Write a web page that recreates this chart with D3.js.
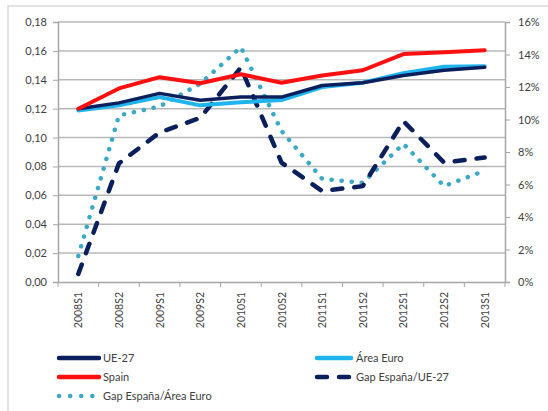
<!DOCTYPE html>
<html><head><meta charset="utf-8">
<script src="https://cdn.jsdelivr.net/npm/d3@7"></script>
<style>
body{margin:0;background:#fff;}
svg{display:block;}
text{font-family:Lato,"Open Sans",sans-serif;fill:#404040;}
</style></head>
<body><svg id="c" width="548" height="411"></svg>
<script>
const categories=["2008S1","2008S2","2009S1","2009S2","2010S1","2010S2","2011S1","2011S2","2012S1","2012S2","2013S1"];
const ue27=[0.120,0.124,0.1306,0.1258,0.128,0.128,0.136,0.138,0.143,0.1466,0.1487];
const areaEuro=[0.1188,0.1223,0.128,0.1223,0.1244,0.126,0.135,0.138,0.1445,0.149,0.1494];
const spain=[0.120,0.134,0.1418,0.1376,0.1438,0.138,0.143,0.1466,0.1578,0.159,0.1605];
const gapUE=[0.005,0.073,0.092,0.101,0.132,0.0735,0.056,0.059,0.099,0.0735,0.0766];
const gapEuro=[0.016,0.1025,0.108,0.122,0.1445,0.093,0.0635,0.061,0.085,0.059,0.0685];
const leftTicks=[0,0.02,0.04,0.06,0.08,0.10,0.12,0.14,0.16,0.18];
const rightTicks=[0,0.02,0.04,0.06,0.08,0.10,0.12,0.14,0.16];

const svg=d3.select("#c");
const L=58,R=505,T=22,B=282;
const x=d3.scaleBand().domain(categories).range([L,R]);
const yL=d3.scaleLinear().domain([0,0.18]).range([B,T]);
const yR=d3.scaleLinear().domain([0,0.16]).range([B,T]);
const fmtL=d3.format(".2f");
const navy="#0b1f5c", light="#1fb4ee", red="#ff1010", dotc="#3aa8c8";

// frame
svg.append("rect").attr("x",8).attr("y",6).attr("width",560).attr("height",420)
  .attr("fill","none").attr("stroke","#d9d9d9").attr("stroke-width",1.5);

// gridlines
svg.append("g").selectAll("line").data(leftTicks.slice(1)).join("line")
  .attr("x1",L).attr("x2",R).attr("y1",d=>yL(d)).attr("y2",d=>yL(d))
  .attr("stroke","#b8b8b8").attr("stroke-width",1.5);

// left axis
const gl=svg.append("g").attr("transform",`translate(${L},0)`)
  .call(d3.axisLeft(yL).tickValues(leftTicks).tickFormat(d=>fmtL(d).replace(".",",")).tickSize(5).tickPadding(6));
gl.selectAll("text").attr("font-size",11).attr("fill","#404040");
// right axis
const gr=svg.append("g").attr("transform",`translate(${R},0)`)
  .call(d3.axisRight(yR).tickValues(rightTicks).tickFormat(d=>Math.round(d*100)+"%").tickSize(5).tickPadding(8));
gr.selectAll("text").attr("font-size",11).attr("fill","#404040");
// bottom axis
const gb=svg.append("g").attr("transform",`translate(0,${B})`)
  .call(d3.axisBottom(x).tickSize(0).tickFormat(""));
gb.selectAll(".tick").remove();
const bounds=categories.map((c,i)=>x(c)).concat([R]);
svg.append("g").selectAll("line").data(bounds).join("line")
  .attr("x1",d=>d).attr("x2",d=>d).attr("y1",B).attr("y2",B+5).attr("stroke","#a6a6a6");
[gl,gr,gb].forEach(g=>{g.select(".domain").attr("stroke","#a6a6a6").attr("stroke-width",1.5);g.selectAll(".tick line").attr("stroke","#a6a6a6");});

svg.append("g").selectAll("text").data(categories).join("text")
  .attr("transform",d=>`translate(${x(d)+x.bandwidth()/2+4},${B+10}) rotate(-90)`)
  .attr("text-anchor","end").attr("font-size",10.5).text(d=>d);

// lines
const cx=(d,i)=>x(categories[i])+x.bandwidth()/2;
const lineL=d3.line().x(cx).y(d=>yL(d));
const lineR=d3.line().x(cx).y(d=>yR(d));
function draw(data,gen,color,dash,w){
  svg.append("path").datum(data).attr("d",gen).attr("fill","none").attr("stroke",color)
    .attr("stroke-width",w).attr("stroke-linejoin","round").attr("stroke-linecap","round")
    .attr("stroke-dasharray",dash);
}
draw(gapEuro,lineR,dotc,"0.1 10",4.5);
draw(gapUE,lineR,navy,"10 12",4.5);
draw(areaEuro,lineL,light,null,4);
draw(ue27,lineL,navy,null,3.5);
draw(spain,lineL,red,null,4);

// legend
const legend=[
  {name:"UE-27",color:navy,dash:null,x:57,y:358},
  {name:"Área Euro",color:light,dash:null,x:315,y:358},
  {name:"Spain",color:red,dash:null,x:57,y:377},
  {name:"Gap España/UE-27",color:navy,dash:"10 12",x:315,y:377},
  {name:"Gap España/Área Euro",color:dotc,dash:"0.1 11",x:57,y:396}
];
const lg=svg.append("g").selectAll("g").data(legend).join("g");
lg.append("line").attr("x1",d=>d.x+2).attr("x2",d=>d.x+(d.x>100?36:42)).attr("y1",d=>d.y).attr("y2",d=>d.y)
  .attr("stroke",d=>d.color).attr("stroke-width",4.5).attr("stroke-linecap","round")
  .attr("stroke-dasharray",d=>d.dash);
lg.append("text").attr("x",d=>d.x+(d.x>100?41:46)).attr("y",d=>d.y+4).attr("font-size",11).text(d=>d.name);
</script></body></html>
